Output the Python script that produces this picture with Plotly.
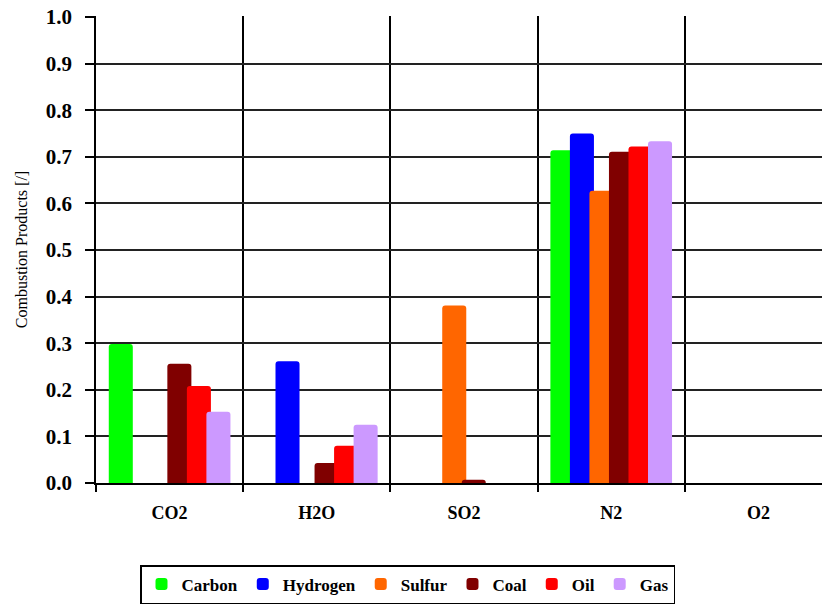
import plotly.graph_objects as go

products = ["CO2", "H2O", "SO2", "N2", "O2"]
fuels = ["Carbon", "Hydrogen", "Sulfur", "Coal", "Oil", "Gas"]
carbon = [0.298, 0.0, 0.0, 0.714, 0.0]
hydrogen = [0.0, 0.261, 0.0, 0.750, 0.0]
sulfur = [0.0, 0.0, 0.381, 0.627, 0.0]
coal = [0.256, 0.043, 0.007, 0.711, 0.0]
oil = [0.208, 0.080, 0.0, 0.722, 0.0]
gas = [0.153, 0.125, 0.0, 0.733, 0.0]
series = [carbon, hydrogen, sulfur, coal, oil, gas]
colors = ["#00FF00", "#0000FF", "#FF6600", "#800000", "#FF0000", "#CC99FF"]
y_ticks = [0.0, 0.1, 0.2, 0.3, 0.4, 0.5, 0.6, 0.7, 0.8, 0.9, 1.0]
y_labels = ["0.0", "0.1", "0.2", "0.3", "0.4", "0.5", "0.6", "0.7", "0.8", "0.9", "1.0"]

step = 19.5 / 147
bw = 24 / 147

fig = go.Figure()
for i, (name, vals, col) in enumerate(zip(fuels, series, colors)):
    center = (i - 2.5) * step
    fig.add_trace(go.Bar(
        x=products, y=vals, name=name,
        marker=dict(color=col, line=dict(width=0), cornerradius=3),
        width=bw, offset=center - bw / 2,
    ))

W, H = 822, 606
font_family = "Liberation Serif"
fig.update_layout(
    width=W, height=H,
    barmode="overlay",
    plot_bgcolor="white", paper_bgcolor="white",
    margin=dict(l=96, r=0, t=16, b=123, autoexpand=False),
    font=dict(family=font_family, color="black"),
    legend=dict(
        orientation="h", xref="container", yref="container",
        x=407.5 / W, y=1 - 565 / H, xanchor="center", yanchor="top",
        bordercolor="black", borderwidth=1.5,
        font=dict(family=font_family, size=17, color="black", weight="bold"),
        itemwidth=30, tracegroupgap=0,
    ),
    xaxis=dict(
        range=[-0.5, 4.5 - 10 / 147], automargin=False,
        tickson="boundaries", ticks="outside", ticklen=7, tickcolor="black", tickwidth=1.5,
        showgrid=True, gridcolor="black", gridwidth=1.5,
        showline=True, linecolor="black", linewidth=1.5,
        tickfont=dict(family=font_family, size=18, weight="bold"),
        ticklabelstandoff=13,
    ),
    yaxis=dict(
        range=[0, 1.002], tickvals=y_ticks, ticktext=y_labels, automargin=False,
        ticklabeloverflow="allow",
        ticks="outside", ticklen=9, tickcolor="black", tickwidth=1.5,
        showgrid=True, gridcolor="#222222", gridwidth=1.5,
        showline=True, linecolor="black", linewidth=1.5,
        zeroline=False,
        tickfont=dict(family=font_family, size=21, weight="bold"),
        ticklabelstandoff=9,
        title=dict(text="Combustion Products [/]", font=dict(family=font_family, size=16), standoff=14),
    ),
)

fig.write_html("out.html", config={"displayModeBar": False},
               post_script="document.body.style.margin='0';")
